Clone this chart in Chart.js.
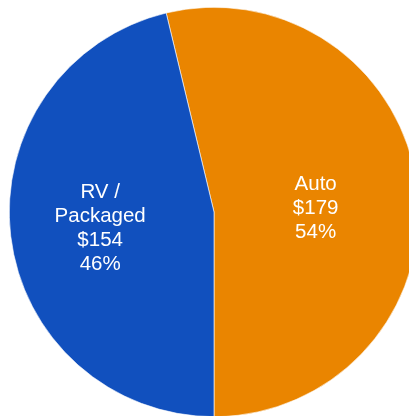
<!DOCTYPE html>
<html>
<head>
<meta charset="utf-8">
<script src="https://cdn.jsdelivr.net/npm/chart.js@4"></script>
<style>
html,body{margin:0;padding:0;background:#fff;overflow:hidden;width:409px;height:416px;}
#wrap{position:absolute;left:9px;top:7px;width:410px;height:410px;}
</style>
</head>
<body>
<div id="wrap"><canvas id="c" width="410" height="410"></canvas></div>
<script>
const categories = ["Auto", "RV /\nPackaged"];
const values = [179, 154];
const valueLabels = ["$179", "$154"];
const percentLabels = ["54%", "46%"];
const colors = ["#EA8500", "#1150BE"];

const total = values.reduce((a, b) => a + b, 0);
const startRotation = 180 - values[0] / total * 360;

const labelPlugin = {
  id: 'sliceLabels',
  afterDatasetsDraw(chart) {
    const ctx = chart.ctx;
    const meta = chart.getDatasetMeta(0);
    const factors = [0.5, 0.56];
    const shifts = [8, 3];
    ctx.save();
    ctx.fillStyle = '#ffffff';
    ctx.font = '20.5px "Liberation Sans", Arial, sans-serif';
    ctx.textAlign = 'center';
    ctx.textBaseline = 'middle';
    meta.data.forEach((arc, i) => {
      const p = arc.getProps(['x', 'y', 'startAngle', 'endAngle', 'outerRadius'], true);
      const mid = (p.startAngle + p.endAngle) / 2;
      const r = p.outerRadius * factors[i];
      const cx = p.x + Math.cos(mid) * r;
      const cy = p.y + Math.sin(mid) * r + shifts[i];
      const lines = categories[i].split('\n').concat([valueLabels[i], percentLabels[i]]);
      const lh = 24;
      const top = cy - (lines.length - 1) * lh / 2;
      lines.forEach((t, k) => ctx.fillText(t, cx, top + k * lh));
    });
    ctx.restore();
  }
};

new Chart(document.getElementById('c'), {
  type: 'pie',
  data: {
    labels: categories,
    datasets: [{
      data: values,
      backgroundColor: colors,
      borderColor: '#ffffff',
      borderWidth: 0.6
    }]
  },
  options: {
    responsive: false,
    animation: false,
    rotation: startRotation,
    layout: { padding: 0 },
    plugins: {
      legend: { display: false },
      tooltip: { enabled: false }
    }
  },
  plugins: [labelPlugin]
});
</script>
</body>
</html>
